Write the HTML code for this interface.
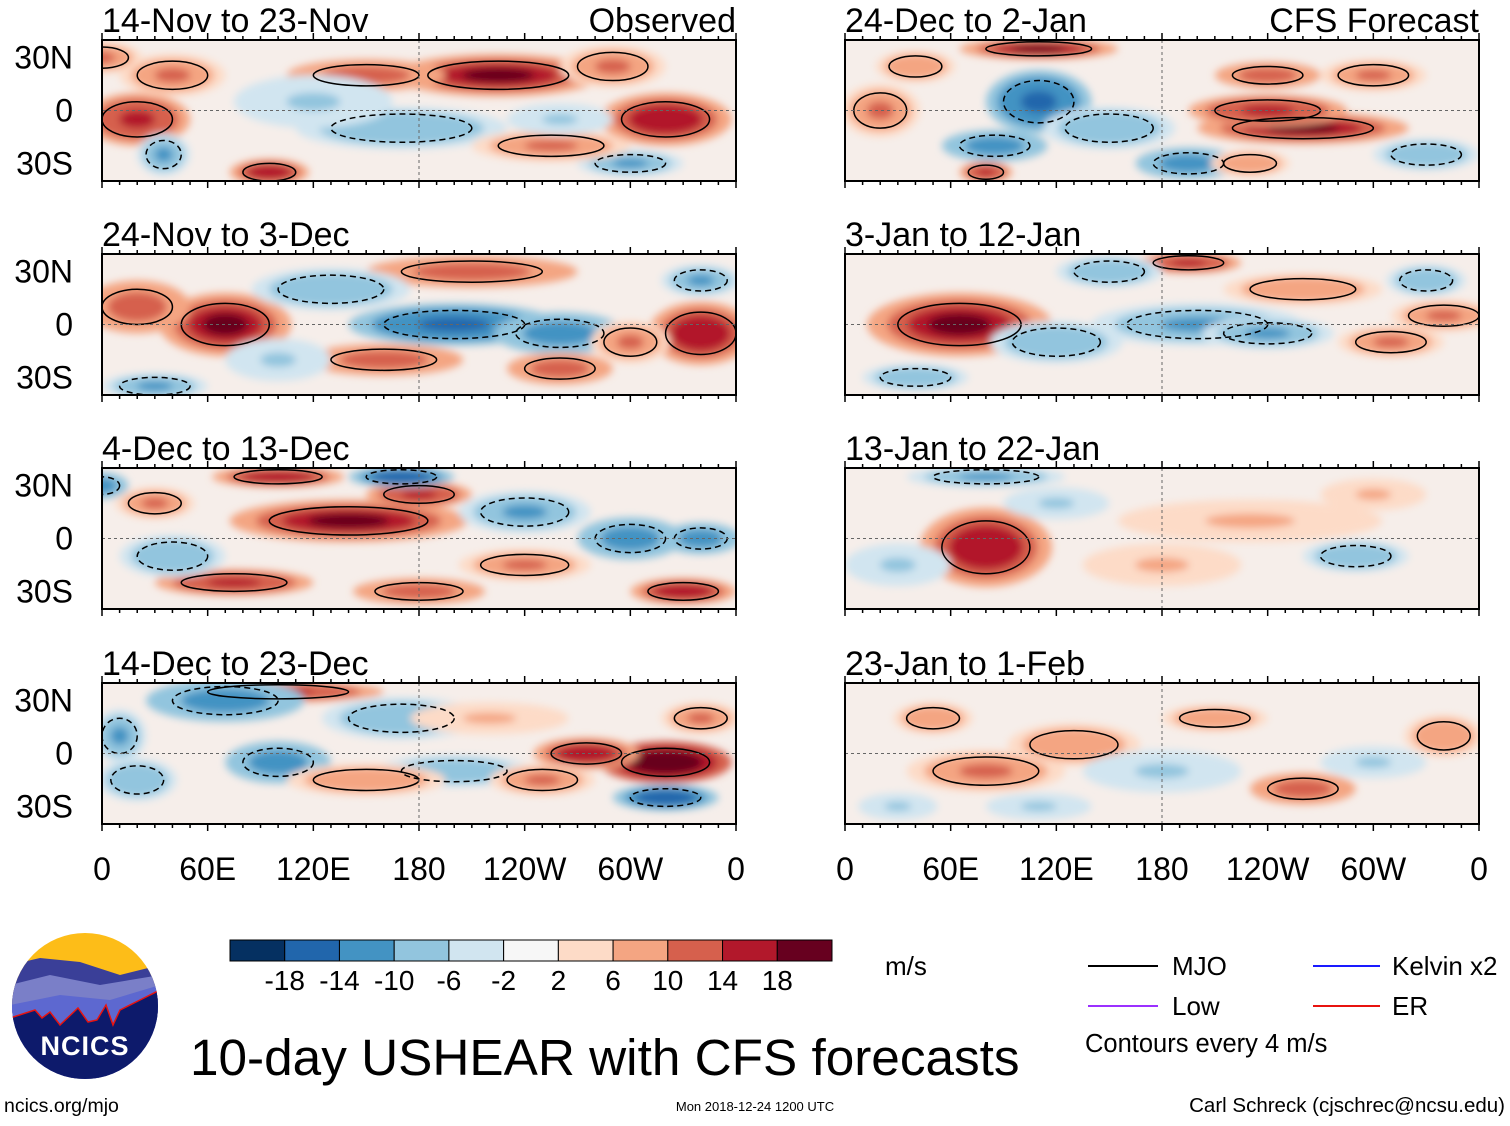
<!DOCTYPE html>
<html><head><meta charset="utf-8"><style>
body{margin:0;background:#fff;width:1510px;height:1121px;overflow:hidden;font-family:"Liberation Sans",Arial,sans-serif}
svg text{font-family:"Liberation Sans",Arial,sans-serif}
</style></head><body>
<svg id="chart" width="1510" height="1121" viewBox="0 0 1510 1121" xmlns="http://www.w3.org/2000/svg">
<defs>
<filter id="blur" x="-50%" y="-50%" width="200%" height="200%"><feGaussianBlur stdDeviation="4"/></filter>
<clipPath id="logoClip"><circle cx="85" cy="1006" r="73"/></clipPath>
</defs>
<g id="panels"></g>
<g id="colorbar"></g>
<text x="885" y="975" font-size="26">m/s</text>
<g>
<line x1="1088" y1="966" x2="1158" y2="966" stroke="#000" stroke-width="2"/>
<text x="1172" y="975" font-size="26">MJO</text>
<line x1="1313" y1="966" x2="1380" y2="966" stroke="#1a1aff" stroke-width="2"/>
<text x="1392" y="975" font-size="26">Kelvin x2</text>
<line x1="1088" y1="1006" x2="1158" y2="1006" stroke="#9b30ff" stroke-width="2"/>
<text x="1172" y="1015" font-size="26">Low</text>
<line x1="1313" y1="1006" x2="1380" y2="1006" stroke="#e8130f" stroke-width="2"/>
<text x="1392" y="1015" font-size="26">ER</text>
<text x="1085" y="1052" font-size="25.5">Contours every 4 m/s</text>
</g>
<text x="190" y="1075" font-size="51.3">10-day USHEAR with CFS forecasts</text>
<g clip-path="url(#logoClip)">
<rect x="10" y="930" width="150" height="155" fill="#fdbd18"/>
<path d="M10 965 L40 958 L80 962 L120 975 L160 965 L160 1085 L10 1085Z" fill="#3a3f98"/>
<path d="M10 985 L50 975 L100 985 L160 975 L160 1085 L10 1085Z" fill="#7a7fc8"/>
<path d="M10 1005 L60 995 L110 1000 L160 985 L160 1085 L10 1085Z" fill="#5d68d0"/>
<path d="M10 1018 L35 1010 L42 1018 L50 1012 L60 1025 L78 1008 L88 1022 L97 1020 L106 1005 L113 1025 L120 1010 L140 1000 L160 990 L160 1085 L10 1085Z" fill="#0d1a6b" stroke="#e8130f" stroke-width="1.5"/>
<text x="85" y="1055" font-size="27" font-weight="bold" fill="#fff" text-anchor="middle" letter-spacing="1">NCICS</text>
</g>
<text x="4" y="1112" font-size="19.5">ncics.org/mjo</text>
<text x="755" y="1111" font-size="13" text-anchor="middle">Mon 2018-12-24 1200 UTC</text>
<text x="1505" y="1112" font-size="20.5" text-anchor="end">Carl Schreck (cjschrec@ncsu.edu)</text>
</svg>
<script>
const NS='http://www.w3.org/2000/svg';
const panelTitles=['14-Nov to 23-Nov','24-Nov to 3-Dec','4-Dec to 13-Dec','14-Dec to 23-Dec','24-Dec to 2-Jan','3-Jan to 12-Jan','13-Jan to 22-Jan','23-Jan to 1-Feb'];
const xTickLabels=['0','60E','120E','180','120W','60W','0'];
const xTickLons=[0,60,120,180,240,300,360];
const yTickLabels=['30N','0','30S'];
const yTickLats=[30,0,-30];
const cbLevels=[-18,-14,-10,-6,-2,2,6,10,14,18];
const cbColors=['#053061','#2166ac','#4393c3','#92c5de','#d1e5f0','#f7f7f7','#fddbc7','#f4a582','#d6604d','#b2182b','#67001f'];
// blobs: [lon, lat, value m/s, lon-radius, lat-radius]
const anom0=[[225,20,16,40,8],[150,20,10,30,6],[20,-5,12,20,10],[40,20,8,20,8],[320,-5,14,25,10],[290,25,8,20,8],[95,-35,14,15,5],[35,-25,-8,10,8],[170,-10,-6,40,8],[120,5,-4,30,10],[300,-30,-8,20,5],[255,-20,8,30,6],[0,30,8,15,6],[260,-5,-4,20,6]];
const anom1=[[70,0,16,25,12],[20,10,10,20,10],[200,0,-12,40,8],[260,-5,-10,25,8],[210,30,10,40,6],[340,-5,14,20,12],[160,-20,10,30,6],[260,-25,10,20,6],[300,-10,8,15,8],[130,20,-6,30,8],[30,-35,-8,20,5],[100,-20,-4,20,8],[340,25,-8,15,6]];
const anom2=[[140,10,16,45,8],[180,25,12,20,5],[100,35,14,25,4],[75,-25,12,30,5],[180,-30,10,25,5],[330,-30,14,20,5],[170,35,-14,20,4],[240,15,-8,25,8],[300,0,-10,20,8],[30,20,8,15,6],[240,-15,8,25,6],[0,30,-10,10,5],[340,0,-10,15,6],[40,-10,-6,20,8]];
const anom3=[[320,-5,18,25,8],[275,0,14,20,6],[100,35,12,40,4],[320,-25,-14,20,5],[70,30,-10,30,8],[100,-5,-10,20,8],[170,20,-6,30,8],[10,10,-8,10,10],[200,-10,-6,30,6],[250,-15,8,20,6],[150,-15,6,30,6],[340,20,8,15,6],[220,20,4,30,6],[20,-15,-6,15,8]];
const anom4=[[260,-10,16,40,6],[240,0,12,30,6],[240,20,10,20,5],[110,35,16,30,4],[110,5,-12,20,12],[85,-20,-10,20,6],[195,-30,-10,20,6],[80,-35,12,10,4],[20,0,8,15,10],[300,20,8,20,6],[150,-10,-6,25,8],[330,-25,-6,20,6],[40,25,6,15,6],[230,-30,6,15,5]];
const anom5=[[65,0,16,35,12],[195,35,12,20,4],[200,0,-8,40,8],[240,-5,-8,25,6],[120,-10,-6,25,8],[310,-10,8,20,6],[340,5,8,20,6],[150,30,-6,20,6],[260,20,6,30,6],[40,-30,-6,20,5],[330,25,-6,15,6]];
const anom6=[[80,-5,14,25,15],[80,35,-8,30,4],[120,20,-4,20,6],[230,10,4,50,8],[290,-10,-6,20,6],[180,-15,4,30,8],[300,25,4,20,6],[30,-15,-4,20,8]];
const anom7=[[80,-10,8,30,8],[260,-20,10,20,6],[130,5,6,25,8],[210,20,6,20,5],[50,20,6,15,6],[180,-10,-4,30,8],[300,-5,-4,20,6],[340,10,6,15,8],[30,-30,-4,15,5],[110,-30,-4,20,5]];
const anoms=[anom0,anom1,anom2,anom3,anom4,anom5,anom6,anom7];

function colorFor(v){let i=0;while(i<cbLevels.length&&v>=cbLevels[i])i++;return cbColors[i];}
function mk(tag,attrs,parent){const e=document.createElementNS(NS,tag);for(const k in attrs)e.setAttribute(k,attrs[k]);parent.appendChild(e);return e;}
const panelsG=document.getElementById('panels');
const colX=[102,845],rowY=[40,254,468,683],PW=634,PH=141;
anoms.forEach((blobs,p)=>{
  const x0=colX[p<4?0:1],y0=rowY[p%4];
  const xs=lon=>x0+lon/360*PW, ys=lat=>y0+(40-lat)/80*PH;
  const g=mk('g',{},panelsG);
  
  
  const cp=mk('clipPath',{id:'clip'+p},g);
  mk('rect',{x:x0,y:y0,width:PW,height:PH},cp);
  const inner=mk('g',{'clip-path':'url(#clip'+p+')'},g);
  mk('rect',{x:x0,y:y0,width:PW,height:PH,fill:'#f6eeea'},inner);
  const fills=mk('g',{filter:'url(#blur)'},inner);
  blobs.forEach(b=>{
    const [lon,lat,v,rl,ra]=b;
    const rx=rl/360*PW*1.5, ry=ra/80*PH*1.5;
    for(let s=0;s<4;s++){
      const vv=v*(0.45+s*0.22)+(v>0?1:-1)*2;
      const e=mk('ellipse',{cx:xs(lon),cy:ys(lat),rx:rx*(1-s*0.22),ry:ry*(1-s*0.22),fill:colorFor(vv)},fills);
      
      
    }
  });
  blobs.forEach(b=>{
    const [lon,lat,v,rl,ra]=b;
    if(Math.abs(v)>=6){
      const c=mk('ellipse',{cx:xs(lon),cy:ys(lat),rx:rl/360*PW*1.0,ry:ra/80*PH*1.0,fill:'none',stroke:'#000','stroke-width':1.5,'stroke-dasharray':v<0?'6,4':'none'},inner);
      
      
    }
  });
  mk('line',{x1:x0,y1:ys(0),x2:x0+PW,y2:ys(0),stroke:'#666','stroke-dasharray':'3,3'},inner);
  mk('line',{x1:xs(180),y1:y0,x2:xs(180),y2:y0+PH,stroke:'#666','stroke-dasharray':'3,3'},inner);
  const fr=mk('rect',{x:x0,y:y0,width:PW,height:PH,fill:'none',stroke:'#000','stroke-width':2},g);
  
  
  for(let lon=0;lon<=360;lon+=10){const L=lon%60===0?7:4;mk('line',{x1:xs(lon),y1:y0,x2:xs(lon),y2:y0-L,stroke:'#000','stroke-width':1.5},g);mk('line',{x1:xs(lon),y1:y0+PH,x2:xs(lon),y2:y0+PH+L,stroke:'#000','stroke-width':1.5},g);}
  const t=mk('text',{x:x0,y:y0-8,'font-size':34},g);t.textContent=panelTitles[p];
  
  
  if(p===0||p===4){const r=mk('text',{x:x0+PW,y:y0-8,'font-size':34,'text-anchor':'end'},g);r.textContent=p===0?'Observed':'CFS Forecast';
    
    }
  if(p<4){yTickLats.forEach((lat,i)=>{const yl=mk('text',{x:73,y:ys(lat)+11,'font-size':32,'text-anchor':'end'},g);yl.textContent=yTickLabels[i];
    
    });}
  if(p%4===3){xTickLons.forEach((lon,i)=>{const xl=mk('text',{x:xs(lon),y:880,'font-size':32,'text-anchor':'middle'},g);xl.textContent=xTickLabels[i];
    
    });}
});
const cb=document.getElementById('colorbar');
const cbX=230,cbW=602/cbColors.length;
cbColors.forEach((c,i)=>{const r=mk('rect',{x:cbX+i*cbW,y:940,width:cbW,height:21,fill:c,stroke:'#000','stroke-width':1},cb);
  
  });
cbLevels.forEach((l,i)=>{const t=mk('text',{x:cbX+(i+1)*cbW,y:990,'font-size':28,'text-anchor':'middle'},cb);t.textContent=l;
  
  });
</script>
</body></html>
